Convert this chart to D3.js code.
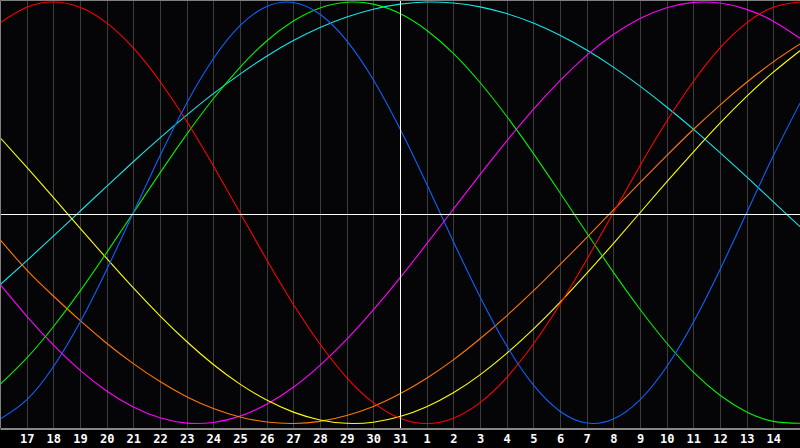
<!DOCTYPE html>
<meta charset="utf-8">
<head>
    <title>Biorhythm</title>
    <style>
        body { margin: 0; background: #000; }
        svg { display: block; }
        .tick text { font-family: "DejaVu Sans Mono", monospace; font-weight: bold; font-size: 12px; fill: #fff; }
    </style>
</head>
<body>
    <script src="https://cdn.jsdelivr.net/npm/d3@7"></script>
    <svg id="chart"></svg>
    <script>
        // tick labels (day of month), one per grid line
        var dayLabels = ["17","18","19","20","21","22","23","24","25","26","27","28","29","30","31",
                         "1","2","3","4","5","6","7","8","9","10","11","12","13","14"];
        var todayIndex = 15;   // the "31" line

        // cycle values read at each day line, index 0 = left edge ... 30 = right edge
        var physical = [-0.979,-0.888,-0.731,-0.520,-0.270,0,0.270,0.520,0.731,0.888,0.979,0.998,0.942,0.817,0.631,0.398,
                        0.136,-0.136,-0.398,-0.631,-0.817,-0.942,-0.998,-0.979,-0.888,-0.731,-0.520,-0.270,0,0.270,0.520];
        var emotional = [0.901,0.975,1,0.975,0.901,0.782,0.623,0.434,0.223,0,-0.223,-0.434,-0.623,-0.782,-0.901,-0.975,
                         -1,-0.975,-0.901,-0.782,-0.623,-0.434,-0.223,0,0.223,0.434,0.623,0.782,0.901,0.975,1];
        var intellectual = [-0.815,-0.690,-0.541,-0.372,-0.189,0,0.189,0.372,0.541,0.690,0.815,0.910,0.972,0.999,0.990,0.945,
                            0.866,0.756,0.618,0.458,0.282,0.095,-0.095,-0.282,-0.458,-0.618,-0.756,-0.866,-0.945,-0.990,-0.999];
        var intuitive = [-0.340,-0.490,-0.627,-0.747,-0.846,-0.922,-0.973,-0.998,-0.995,-0.965,-0.909,-0.828,-0.724,-0.601,-0.461,-0.309,
                         -0.148,0.017,0.181,0.340,0.490,0.627,0.747,0.846,0.922,0.973,0.998,0.995,0.965,0.909,0.828];
        var aesthetic = [0.357,0.217,0.073,-0.073,-0.217,-0.357,-0.489,-0.611,-0.720,-0.813,-0.889,-0.946,-0.983,-0.999,-0.994,-0.967,
                         -0.920,-0.854,-0.769,-0.667,-0.552,-0.425,-0.288,-0.146,0,0.146,0.288,0.425,0.552,0.667,0.769];
        var awareness = [-0.128,-0.271,-0.395,-0.511,-0.619,-0.716,-0.801,-0.873,-0.929,-0.969,-0.993,-1.000,-0.990,-0.962,-0.919,-0.859,
                         -0.785,-0.698,-0.598,-0.489,-0.371,-0.246,-0.118,0.013,0.143,0.271,0.395,0.511,0.619,0.716,0.801];
        var spiritual = [-0.342,-0.228,-0.111,0.007,0.125,0.242,0.355,0.463,0.565,0.658,0.743,0.817,0.879,0.929,0.966,0.990,
                         1.000,0.995,0.977,0.945,0.900,0.842,0.772,0.691,0.601,0.502,0.397,0.285,0.170,0.052,-0.066];

        var series = [
            { name: "spiritual", values: spiritual, color: "#10e8e8" },
            { name: "intuitive", values: intuitive, color: "#ff00ff" },
            { name: "awareness", values: awareness, color: "#ff7800" },
            { name: "aesthetic", values: aesthetic, color: "#ffff00" },
            { name: "intellectual", values: intellectual, color: "#00f000" },
            { name: "emotional", values: emotional, color: "#ff0000" },
            { name: "physical", values: physical, color: "#0a64ff" }
        ];

        var width = 800, height = 448;
        var plotH = 428;

        var svg = d3.select("#chart")
            .attr("width", width)
            .attr("height", height)
            .style("background", "#000");

        svg.append("rect")
            .attr("width", width).attr("height", plotH)
            .attr("fill", "#050407");

        var x = d3.scaleLinear().domain([0, 30]).range([0, width]);
        var y = d3.scaleLinear().domain([-1, 1]).range([423.5, 2]);

        // day grid lines
        svg.append("g")
            .selectAll("line")
            .data(dayLabels)
            .enter().append("line")
            .attr("x1", (d, i) => Math.round(x(i + 1)) + 0.5)
            .attr("x2", (d, i) => Math.round(x(i + 1)) + 0.5)
            .attr("y1", 0).attr("y2", plotH)
            .attr("stroke", "#3c3c3c");

        // curves
        var line = d3.line()
            .x((d, i) => x(i))
            .y(d => y(d))
            .curve(d3.curveNatural);

        svg.append("g")
            .selectAll("path")
            .data(series)
            .enter().append("path")
            .attr("d", d => line(d.values))
            .attr("fill", "none")
            .attr("stroke", d => d.color)
            .attr("stroke-width", 1.1);

        // today + zero lines
        svg.append("line")
            .attr("x1", Math.round(x(todayIndex)) + 0.5).attr("x2", Math.round(x(todayIndex)) + 0.5)
            .attr("y1", 0).attr("y2", plotH)
            .attr("stroke", "#fff");
        svg.append("line")
            .attr("x1", 0).attr("x2", width)
            .attr("y1", 214.5).attr("y2", 214.5)
            .attr("stroke", "#fff");

        // frame
        svg.append("path")
            .attr("d", "M0.5," + plotH + "V0.5H" + width)
            .attr("fill", "none")
            .attr("stroke", "#808080");

        // x axis with day labels
        var axis = d3.axisBottom(x)
            .tickValues(d3.range(1, 30))
            .tickFormat(i => dayLabels[i - 1])
            .tickSize(0)
            .tickPadding(6);

        var gx = svg.append("g")
            .attr("transform", "translate(0," + (plotH + 0.5) + ")")
            .call(axis);
        gx.select(".domain").attr("stroke", "#b4b4b4").attr("stroke-width", 1.5);
    </script>
</body>
</html>
